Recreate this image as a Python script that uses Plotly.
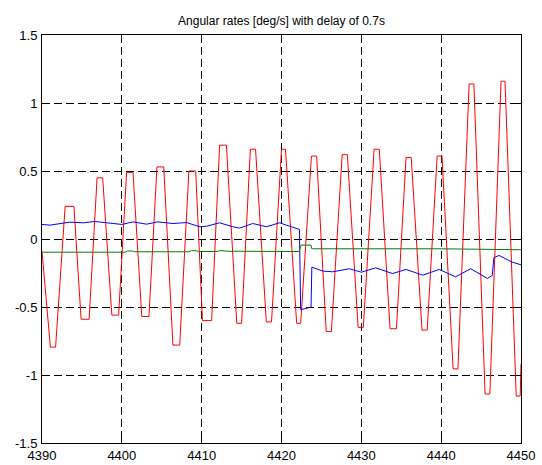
import plotly.graph_objects as go

# Red trace: turning points of the oscillating rate signal (time [s], rate [deg/s])
red_t = [4390.0,
         4391.05, 4391.7, 4392.9, 4394.0,
         4394.9, 4395.9, 4396.9, 4397.6,
         4398.75, 4399.6, 4400.6, 4401.4,
         4402.5, 4403.4, 4404.4, 4405.25,
         4406.4, 4407.25, 4408.4, 4409.25,
         4410.1, 4411.25, 4412.25, 4413.1,
         4414.4, 4415.0, 4416.1, 4416.75,
         4418.1, 4418.75, 4420.0, 4420.5,
         4421.9, 4422.4, 4423.75, 4424.4,
         4425.6, 4426.25, 4427.6, 4428.25,
         4429.6, 4430.25, 4431.6, 4432.25,
         4433.6, 4434.4, 4435.6, 4436.25,
         4437.6, 4438.25, 4439.5, 4440.1,
         4441.5, 4442.1, 4443.5, 4444.1,
         4445.5, 4446.1, 4447.5, 4448.0,
         4449.4, 4449.9, 4450.0]
red_v = [-0.09,
         -0.795, -0.795, 0.24, 0.24,
         -0.59, -0.59, 0.45, 0.45,
         -0.56, -0.56, 0.49, 0.49,
         -0.57, -0.57, 0.53, 0.53,
         -0.78, -0.78, 0.50, 0.50,
         -0.60, -0.60, 0.69, 0.69,
         -0.62, -0.62, 0.66, 0.66,
         -0.61, -0.61, 0.66, 0.66,
         -0.62, -0.62, 0.61, 0.61,
         -0.68, -0.68, 0.62, 0.62,
         -0.65, -0.65, 0.66, 0.66,
         -0.66, -0.66, 0.60, 0.60,
         -0.67, -0.67, 0.61, 0.61,
         -0.955, -0.955, 1.14, 1.14,
         -1.14, -1.14, 1.16, 1.16,
         -1.155, -1.155, -0.92]

# Blue trace
blue_t = [4390.0, 4391.0, 4393.5, 4395.2, 4396.6, 4398.5, 4400.0, 4401.4,
          4403.1, 4404.5, 4406.4, 4408.1, 4409.75, 4410.6, 4412.25, 4413.9,
          4414.75, 4416.4, 4418.1, 4419.75, 4421.0, 4422.25, 4422.4, 4423.7,
          4423.8, 4425.2, 4426.4, 4428.5, 4430.0, 4431.8, 4433.9, 4435.6,
          4437.7, 4439.75, 4441.8, 4443.7, 4445.8, 4446.4, 4446.6, 4447.25,
          4448.9, 4450.0]
blue_v = [0.107, 0.102, 0.124, 0.119, 0.129, 0.114, 0.107, 0.126,
          0.109, 0.126, 0.114, 0.121, 0.090, 0.094, 0.119, 0.090,
          0.080, 0.114, 0.090, 0.119, 0.094, 0.070, -0.52, -0.50,
          -0.207, -0.236, -0.241, -0.219, -0.244, -0.212, -0.254, -0.224,
          -0.266, -0.224, -0.278, -0.219, -0.290, -0.268, -0.138, -0.121,
          -0.170, -0.190]

# Green trace
green_t = [4390.0, 4400.4, 4400.7, 4401.3, 4401.6, 4408.4, 4408.7, 4409.3,
           4409.6, 4412.0, 4412.3, 4412.9, 4413.2, 4422.2, 4422.45, 4423.7,
           4423.8, 4440.0, 4446.5, 4447.3, 4450.0]
green_v = [-0.097, -0.097, -0.088, -0.088, -0.094, -0.094, -0.086, -0.086,
           -0.092, -0.092, -0.085, -0.085, -0.090, -0.092, -0.045, -0.045,
           -0.072, -0.072, -0.074, -0.078, -0.079]

x_ticks = [4390, 4400, 4410, 4420, 4430, 4440, 4450]
y_ticks = [-1.5, -1, -0.5, 0, 0.5, 1, 1.5]
y_labels = ["-1.5", "-1", "-0.5", "0", "0.5", "1", "1.5"]

FONT = "Liberation Sans, Arial, sans-serif"

fig = go.Figure()
fig.add_trace(go.Scatter(x=red_t, y=red_v, mode="lines",
                         line=dict(color="#ff0000", width=1)))
fig.add_trace(go.Scatter(x=blue_t, y=blue_v, mode="lines",
                         line=dict(color="#0000ff", width=1)))
fig.add_trace(go.Scatter(x=green_t, y=green_v, mode="lines",
                         line=dict(color="#008000", width=1)))

axis_common = dict(
    showline=True, linecolor="black", linewidth=1, mirror="ticks",
    ticks="inside", ticklen=5, tickcolor="black", tickwidth=1,
    showgrid=True, gridcolor="black", gridwidth=1, griddash="8px,4px",
    zeroline=False, automargin=False,
    tickfont=dict(family=FONT, size=13, color="black"),
)

fig.update_xaxes(range=[4390, 4450], tickvals=x_ticks,
                 ticktext=[str(v) for v in x_ticks],
                 ticklabelstandoff=0, **axis_common)
fig.update_yaxes(range=[-1.5, 1.5], tickvals=y_ticks, ticktext=y_labels,
                 ticklabelstandoff=1, **axis_common)

fig.update_layout(
    width=542, height=465,
    margin=dict(l=42, r=21, t=35, b=22, autoexpand=False),
    paper_bgcolor="white", plot_bgcolor="white",
    showlegend=False,
    title=dict(text="Angular rates [deg/s] with delay of 0.7s",
               font=dict(family=FONT, size=12, color="black"),
               x=0.5, xref="paper", xanchor="center",
               y=1, yref="paper", yanchor="bottom", pad=dict(b=10),
               automargin=False),
)

fig.write_html("out.html")
